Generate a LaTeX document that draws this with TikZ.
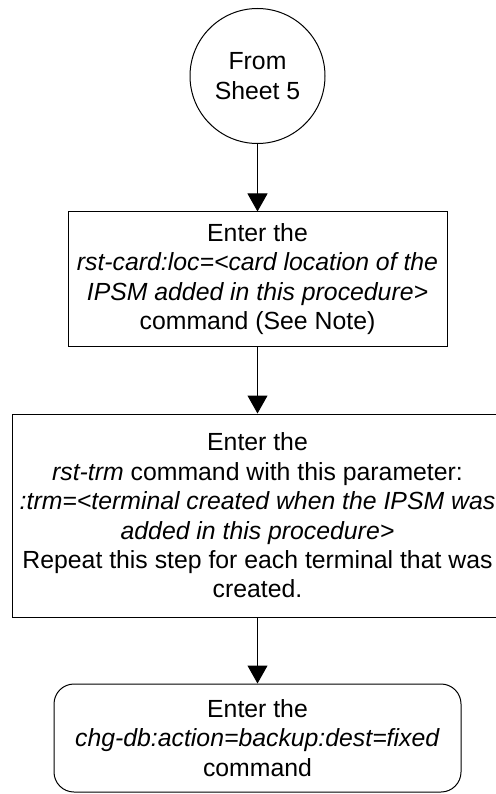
\documentclass[tikz,border=0pt]{standalone}
\usepackage{fontspec}
\setmainfont{Liberation Sans}
\usetikzlibrary{positioning, arrows.meta}

\begin{document}
\begin{tikzpicture}[x=1pt, y=-1pt, line width=1pt,
    font=\fontsize{24.8}{29.4}\selectfont,
    every node/.style={align=center, inner sep=0pt},
    stepbox/.style={draw, rectangle},
    endbox/.style={draw, rectangle, rounded corners=20pt},
    sheetref/.style={draw, circle, minimum size=135pt},
    flow/.style={-{Triangle[length=18pt, width=20pt]}}]
  \useasboundingbox (0,0) rectangle (495,794);
  \node[sheetref] (fromsheet) at (257.5,76) {From\\Sheet 5};
  \node[stepbox, minimum width=379pt, minimum height=134pt] (rstcard) at (257.5,279)
    {Enter the\\\textit{rst-card:loc=<card location of the}\\
     \textit{IPSM added in this procedure>}\\command (See Note)};
  \node[stepbox, minimum width=491pt, minimum height=203pt] (rsttrm) at (257.5,515.5)
    {Enter the\\\textit{rst-trm} command with this parameter:\\
     \textit{:trm=<terminal created when the IPSM was}\\
     \textit{added in this procedure>}\\
     Repeat this step for each terminal that was\\created.};
  \node[endbox, minimum width=407pt, minimum height=108pt] (chgdb) at (257.5,738)
    {Enter the\\\textit{chg-db:action=backup:dest=fixed}\\command};
  \draw[flow] (fromsheet) -- (rstcard);
  \draw[flow] (rstcard) -- (rsttrm);
  \draw[flow] (rsttrm) -- (chgdb);
\end{tikzpicture}
\end{document}
